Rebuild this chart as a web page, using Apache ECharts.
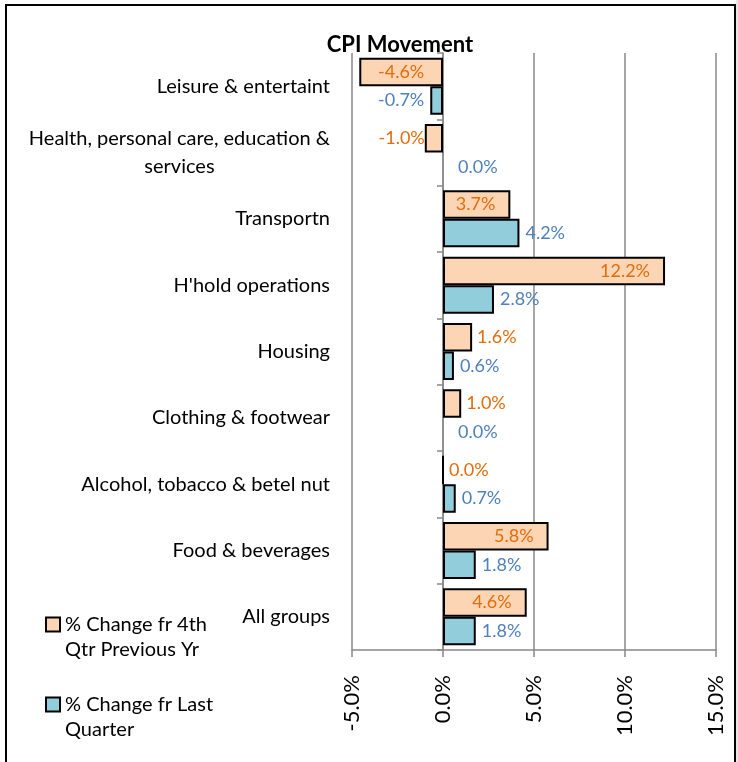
<!DOCTYPE html>
<html>
<head>
<meta charset="utf-8">
<script src="https://cdn.jsdelivr.net/npm/echarts@6/dist/echarts.min.js"></script>
<style>
  html, body { margin: 0; padding: 0; background: #fff; }
  #chart { width: 738px; height: 762px; }
</style>
</head>
<body>
<div id="chart"></div>
<script>
  // categories bottom -> top (category axis grows upward)
  const categories = [
    'All groups',
    'Food & beverages',
    'Alcohol, tobacco & betel nut',
    'Clothing & footwear',
    'Housing',
    "H'hold operations",
    'Transportn',
    'Health, personal care, education & services',
    'Leisure & entertaint'
  ]
  const prevYrChange = [4.6, 5.8, 0.0, 1.0, 1.6, 12.2, 3.7, -1.0, -4.6]
  const lastQtrChange = [1.8, 1.8, 0.7, 0.0, 0.6, 2.8, 4.2, 0.0, -0.7]
  const seriesNames = ['% Change fr 4th Qtr Previous Yr', '% Change fr Last Quarter']
  const legendText = {
    '% Change fr 4th Qtr Previous Yr': '% Change fr 4th\nQtr Previous Yr',
    '% Change fr Last Quarter': '% Change fr Last\nQuarter'
  }
  const xMin = -5
  const xMax = 15
  const xStep = 5

  const font = 'Lato, "Open Sans", sans-serif'
  const gridColor = '#888888'

  function pct(v) {
    return v.toFixed(1) + '%'
  }

  // wrap long category names, lines centered like the original
  function wrapName(name) {
    let words = name.split(' ')
    let lines = []
    let cur = ''
    words.forEach(w => {
      let next = cur ? cur + ' ' + w : w
      if (next.length > 34 && cur) {
        lines.push(cur)
        cur = w
      } else {
        cur = next
      }
    })
    lines.push(cur)
    return lines.map(l => '{c|' + l + '}').join('\n')
  }

  let chart = echarts.init(document.getElementById('chart'))

  // big bars get the label inside the end, small ones outside
  let prevData = prevYrChange.map(v => {
    let pos, dist
    if (v <= -3) { pos = 'inside'; dist = 5 }
    else if (v >= 3) { pos = 'insideRight'; dist = 15 }
    else if (v < 0) { pos = 'left'; dist = 0 }
    else { pos = 'right'; dist = 5 }
    return { value: v, label: { position: pos, distance: dist } }
  })
  let qtrData = lastQtrChange.map(v => {
    let item = { value: v, label: { position: v < 0 ? 'left' : 'right', distance: v === 0 ? 15 : 6 } }
    if (v === 0) item.itemStyle = { borderWidth: 0 }
    return item
  })

  let option = {
    animation: false,
    backgroundColor: '#fff',
    title: {
      text: 'CPI Movement',
      left: 395,
      top: 29,
      textAlign: 'center',
      textStyle: {
        fontFamily: font,
        fontWeight: 'bold',
        fontSize: 22,
        color: '#000'
      }
    },
    legend: {
      orient: 'vertical',
      left: 45,
      top: 587,
      padding: 0,
      itemWidth: 14,
      itemHeight: 14,
      itemGap: 5,
      icon: 'rect',
      data: seriesNames,
      // empty first line so the icon sits next to the first text line
      formatter: name => ' \n' + legendText[name],
      textStyle: {
        fontFamily: font,
        fontSize: 20,
        color: '#000',
        lineHeight: 25
      }
    },
    grid: {
      left: 352,
      right: 22,
      top: 53,
      bottom: 112,
      containLabel: false
    },
    xAxis: {
      type: 'value',
      min: xMin,
      max: xMax,
      interval: xStep,
      axisLine: { show: true, lineStyle: { color: gridColor, width: 1.5 } },
      axisTick: { show: true, length: 7, lineStyle: { color: gridColor, width: 1.5 } },
      axisLabel: {
        rotate: 90,
        margin: 25,
        fontFamily: font,
        fontSize: 22,
        color: '#000',
        formatter: v => pct(v)
      },
      splitLine: { show: true, lineStyle: { color: gridColor, width: 1.5 } }
    },
    yAxis: [
      {
        type: 'category',
        data: categories,
        axisLine: { show: false, onZero: false },
        axisTick: { show: false },
        axisLabel: {
          margin: 22,
          align: 'right',
          formatter: v => wrapName(v),
          rich: {
            c: {
              align: 'center',
              fontFamily: font,
              fontSize: 20,
              color: '#000',
              lineHeight: 28
            }
          }
        }
      },
      {
        // zero line with the category ticks
        type: 'category',
        data: categories,
        position: 'left',
        axisLine: { show: true, onZero: true, lineStyle: { color: gridColor, width: 1.5 } },
        axisTick: { show: true, length: 6, lineStyle: { color: gridColor, width: 1.5 } },
        axisLabel: { show: false }
      }
    ],
    series: [
      {
        name: seriesNames[0],
        type: 'bar',
        yAxisIndex: 0,
        barGap: '0%',
        barCategoryGap: '14%',
        data: prevData,
        itemStyle: { color: '#FCD5B5', borderColor: '#000', borderWidth: 2 },
        label: {
          show: true,
          fontFamily: font,
          fontSize: 18,
          color: '#E46C0A',
          formatter: p => pct(p.value)
        }
      },
      {
        name: seriesNames[1],
        type: 'bar',
        yAxisIndex: 0,
        data: qtrData,
        itemStyle: { color: '#92CDDC', borderColor: '#000', borderWidth: 2 },
        label: {
          show: true,
          fontFamily: font,
          fontSize: 18,
          color: '#4F81BD',
          formatter: p => pct(p.value)
        }
      }
    ],
    graphic: [
      {
        type: 'rect',
        silent: true,
        z: 100,
        shape: { x: 6, y: 5, width: 729, height: 800 },
        style: { fill: 'none', stroke: '#000', lineWidth: 2 }
      },
      {
        type: 'rect',
        silent: true,
        shape: { x: 736, y: 0, width: 2, height: 762 },
        style: { fill: '#e6e6e6' }
      }
    ]
  }

  chart.setOption(option)
</script>
</body>
</html>
